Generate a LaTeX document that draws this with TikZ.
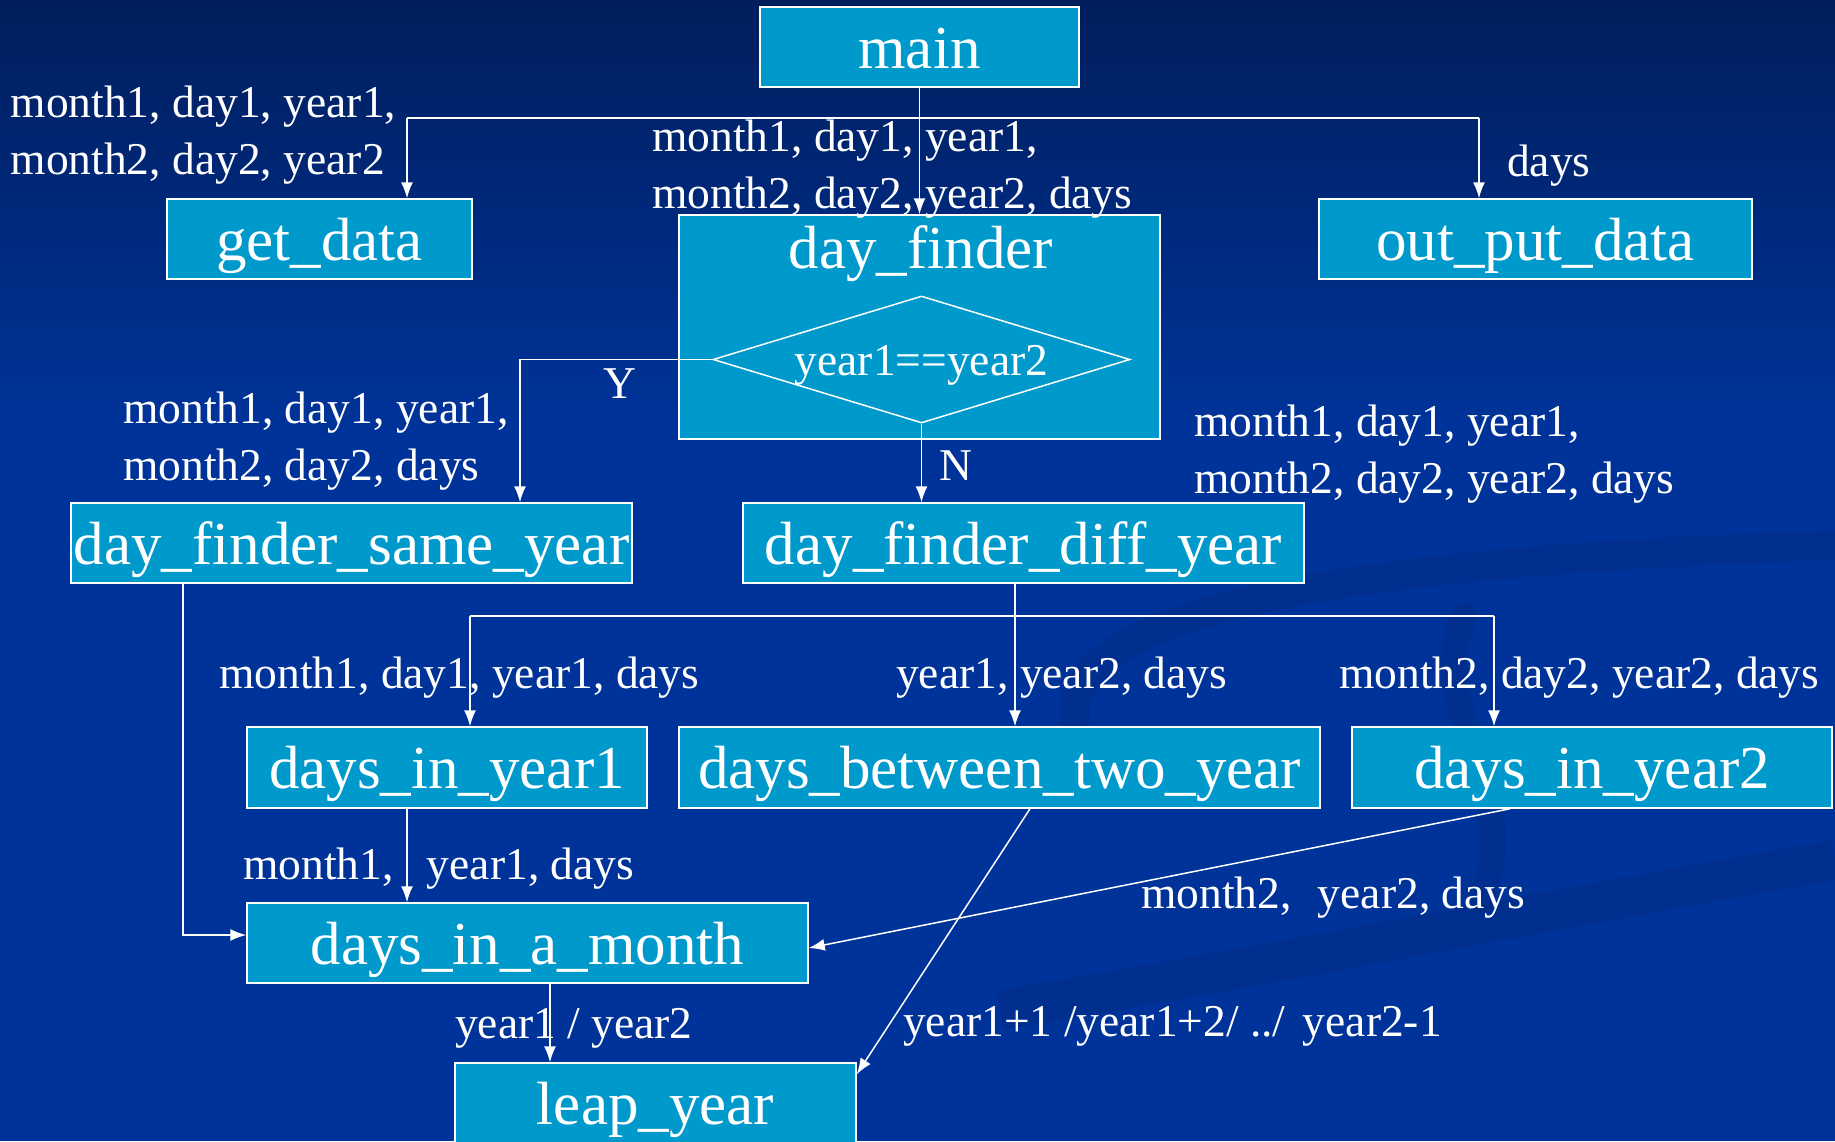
\documentclass[tikz,border=0pt]{standalone}
\usepackage{fontspec}
\setmainfont{Liberation Serif}
\usetikzlibrary{arrows.meta,shapes.geometric}
\definecolor{bgtop}{RGB}{0,30,92}
\definecolor{bgmain}{RGB}{0,51,153}
\definecolor{boxblue}{RGB}{0,153,204}
\definecolor{swirl}{RGB}{0,40,125}
\begin{document}
\begin{tikzpicture}[x=1pt,y=-1pt,
  box/.style={draw=white, line width=1.5pt, fill=boxblue, text=white, inner sep=0pt,
    minimum height=80pt, text height=50pt, text depth=8pt, font=\fontsize{61}{70}\selectfont},
  lbl/.style={text=white, inner sep=0pt, anchor=base west, font=\fontsize{45.5}{56}\selectfont},
  plain/.style={draw=white, line width=1.5pt},
  conn/.style={draw=white, line width=1.5pt, -{Latex[length=16pt,width=12pt]}}]
\useasboundingbox (0,0) rectangle (1835,1141);
\clip (0,0) rectangle (1835,1141);
% background
\fill[bgmain] (0,0) rectangle (1835,1141);
\shade[top color=bgtop, bottom color=bgmain] (0,0) rectangle (1835,420);
\draw[swirl, line width=30pt, opacity=0.35, line cap=round] (1075,720) .. controls (1060,600) and (1400,560) .. (1835,545);
\draw[swirl, line width=26pt, opacity=0.35, line cap=round] (1465,615) .. controls (1420,710) and (1530,790) .. (1480,900);
\draw[swirl, line width=40pt, opacity=0.35] (1000,1010) .. controls (1300,960) and (1600,900) .. (1835,860);
% boxes
\node[box, minimum width=319pt] (main) at (919.5,47) {main};
\node[box, minimum width=305pt] (gd) at (319.5,239) {get\_data};
\node[box, minimum width=433pt] (od) at (1535.5,239) {out\_put\_data};
\node[box, minimum width=481pt, minimum height=224pt] (df) at (919.5,327) {};
\node[text=white, inner sep=0pt, anchor=base, font=\fontsize{61}{70}\selectfont] (dft) at (921,268) {day\_finder};
\node[draw=white, line width=1.5pt, shape=diamond, aspect=3.28, inner sep=0pt,
  minimum width=417pt, minimum height=127pt, text=white, text height=36pt, text depth=5pt,
  font=\fontsize{45.5}{56}\selectfont] (dia) at (921.5,359.5) {year1==year2};
\node[box, minimum width=561pt] (sy) at (351.5,543) {day\_finder\_same\_year};
\node[box, minimum width=561pt] (dy) at (1023.5,543) {day\_finder\_diff\_year};
\node[box, minimum width=400pt, minimum height=81pt] (y1) at (447,767.5) {days\_in\_year1};
\node[box, minimum width=641pt, minimum height=81pt] (bt) at (999.5,767.5) {days\_between\_two\_year};
\node[box, minimum width=480pt, minimum height=81pt] (y2) at (1592,767.5) {days\_in\_year2};
\node[box, minimum width=561pt] (dm) at (527.5,943) {days\_in\_a\_month};
\node[box, minimum width=401pt] (ly) at (655.5,1103) {leap\_year};
% connectors
\coordinate (ba) at (407,118);
\coordinate (bb) at (1479,118);
\draw[conn] (main.south) -- (df.north);
\draw[plain] (ba) -- (bb);
\draw[conn] (ba) -- (ba |- gd.north);
\draw[conn] (bb) -- (bb |- od.north);
\coordinate (yc) at (520,359.5);
\draw[conn] (dia.west) -- (yc) -- (yc |- sy.north);
\draw[conn] (dia.south) -- (dia.south |- dy.north);
\coordinate (bc) at (470,616);
\coordinate (bd) at (1494,616);
\draw[conn] ([xshift=-8.5pt]dy.south) -- ([xshift=15.5pt]bt.north);
\draw[plain] (bc) -- (bd);
\draw[conn] (bc) -- (bc |- y1.north);
\draw[conn] (bd) -- (bd |- y2.north);
\draw[conn] ([xshift=-168.5pt]sy.south) |- ([yshift=8pt]dm.west);
\draw[conn] ([xshift=-40pt]y1.south) -- ([xshift=-120.5pt]dm.north);
\draw[conn] ([xshift=-82pt]y2.south) -- ([yshift=-5pt]dm.east);
\draw[conn] ([xshift=30.5pt]bt.south) -- ([yshift=-12pt]ly.north east);
\draw[conn] ([xshift=22.5pt]dm.south) -- ([xshift=22.5pt]dm.south |- ly.north);
% labels
\node[lbl] (l1a) at (10.5,117) {month1, day1, year1,};
\node[lbl] (l1b) at (10.5,174) {month2, day2, year2};
\node[lbl] (l2a) at (652,151) {month1, day1, year1,};
\node[lbl] (l2b) at (652,208) {month2, day2, year2, days};
\node[lbl] (l3) at (1507,176) {days};
\node[lbl] (l4a) at (123,423) {month1, day1, year1,};
\node[lbl] (l4b) at (123,480) {month2, day2, days};
\node[lbl, anchor=base] (lY) at (620,398) {Y};
\node[lbl, anchor=base] (lN) at (956,480) {N};
\node[lbl] (l5a) at (1194,436) {month1, day1, year1,};
\node[lbl] (l5b) at (1194,493) {month2, day2, year2, days};
\node[lbl] (l6) at (219,688) {month1, day1, year1, days};
\node[lbl] (l7) at (896,688) {year1, year2, days};
\node[lbl] (l8) at (1339,688) {month2, day2, year2, days};
\node[lbl] (l9) at (243,879) {month1,\hspace{22pt} year1, days};
\node[lbl] (l10) at (1141,908) {month2,\hspace{15pt} year2, days};
\node[lbl] (l11) at (455,1038) {year1 / year2};
\node[lbl] (l12) at (903,1036) {year1+1 /year1+2/ ../\hspace{6pt} year2-1};
\end{tikzpicture}
\end{document}
